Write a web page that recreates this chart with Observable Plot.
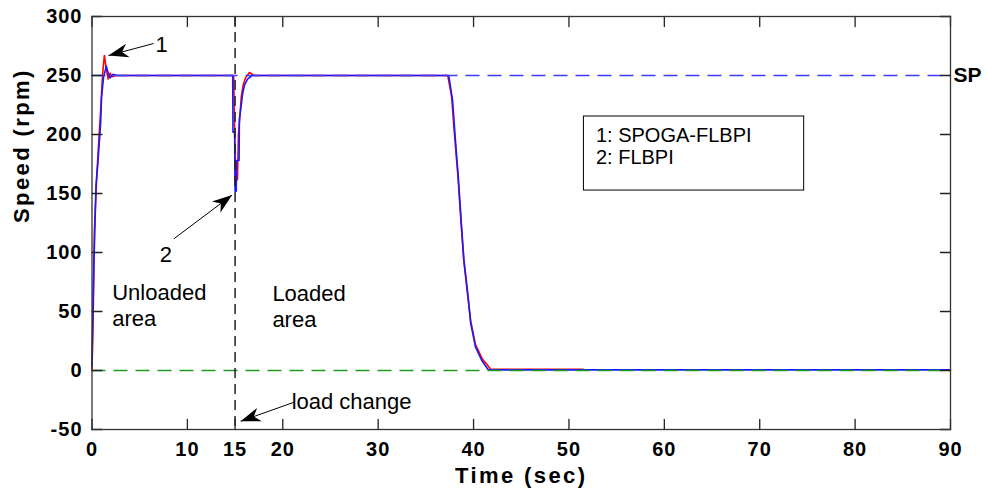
<!DOCTYPE html>
<html>
<head>
<meta charset="utf-8">
<script src="https://cdn.jsdelivr.net/npm/d3@7"></script>
<script src="https://cdn.jsdelivr.net/npm/@observablehq/plot@0.6"></script>
<style>
  html, body { margin: 0; padding: 0; background: white; }
</style>
</head>
<body>
<div id="chart"></div>
<script>
// ---- data ----
const xTicks = [0, 10, 15, 20, 30, 40, 50, 60, 70, 80, 90];
const yTicks = [-50, 0, 50, 100, 150, 200, 250, 300];

// Series 1: SPOGA-FLBPI (red)
const spogaT = [0, 0.12, 0.25, 0.5, 0.75, 0.9, 1.0, 1.15, 1.3, 1.5, 1.7, 1.9, 2.1, 2.5,
  14.85, 14.95, 15.05, 15.25, 15.35, 15.5, 15.65, 15.85, 16.1, 16.5, 17.0,
  37.3, 37.7, 38.0, 38.35, 38.65, 38.95, 39.35, 39.7, 40.2, 40.9, 41.4, 41.8, 51.5];
const spogaV = [0, 45, 118, 165, 200, 219, 235, 255, 267, 255, 247, 252, 249, 250,
  250, 205, 160, 162, 200, 215, 232, 242, 248, 252.5, 250,
  250, 232, 200, 166, 130, 95, 66, 42, 22, 10, 5, 1, 1];

// Series 2: FLBPI (blue)
const flbpiT = [0, 0.08, 0.2, 0.42, 0.6, 0.9, 1.0, 1.2, 1.5, 1.7, 1.9, 2.2, 2.6,
  14.75, 14.78, 14.95, 15.0, 15.12, 15.15, 15.42, 15.45, 15.6, 15.8, 16.0, 16.3, 16.8,
  37.4, 37.8, 38.1, 38.4, 38.7, 39.0, 39.4, 39.7, 40.2, 40.9, 41.5, 41.7, 90];
const flbpiV = [4, 45, 90, 157, 174, 209, 231, 248, 258, 252, 248, 251, 250,
  250, 202, 202, 152, 152, 178, 178, 213, 222, 235, 242, 247, 250,
  250, 229, 195, 164, 127, 93, 65, 40, 20, 8, 1, 0.5, 0.5];

const setPoint = 250;
const loadChangeTime = 15;

const legendLines = ["1: SPOGA-FLBPI", "2: FLBPI"];

// ---- tables built from the arrays ----
const spoga = spogaT.map((t, i) => ({t, v: spogaV[i]}));
const flbpi = flbpiT.map((t, i) => ({t, v: flbpiV[i]}));

// annotation anchors in data units
const notes = [
  {t: 6.66, v: 269.7, text: "1"},
  {t: 7.11, v: 91.8, text: "2"},
  {t: 20.93, v: -32.5, text: "load change"}
];
const areaNotes = [
  {t: 2.12, v: 75.7, text: "Unloaded\narea"},
  {t: 18.91, v: 74.8, text: "Loaded\narea"}
];
const arrows = [
  {t1: 6.45, v1: 277.1, t2: 1.73, v2: 266.9},
  {t1: 8.58, v1: 111.6, t2: 14.69, v2: 148.7},
  {t1: 21.18, v1: -26.9, t2: 15.58, v2: -43.0}
];
const legendBox = [{t1: 51.57, t2: 74.66, v1: 152.5, v2: 215.25}];
const legendText = [
  {t: 52.83, v: 193.6, text: legendLines[0]},
  {t: 52.83, v: 175.4, text: legendLines[1]}
];

const font = "'Liberation Sans', Arial, Helvetica, sans-serif";

const W = 987, H = 497, ML = 91.5, MR = 37, MT = 16, MB = 68;

// straight tick shape for Plot.vector
const tickShape = {draw(context, l) { context.moveTo(0, 0); context.lineTo(0, -l); }};

function headMarker(color, context) {
  const m = d3.create("svg:marker")
    .attr("viewBox", "-21 -8 22 16")
    .attr("markerWidth", 22)
    .attr("markerHeight", 16)
    .attr("markerUnits", "userSpaceOnUse")
    .attr("refX", 0).attr("refY", 0)
    .attr("orient", "auto")
    .attr("fill", "black")
    .attr("stroke", "none");
  m.append("path").attr("d", "M0,0L-20,-7L-14,0L-20,7Z");
  return m.node();
}

const tickStyle = {length: 10, anchor: "start", shape: tickShape, stroke: "#222", strokeWidth: 1.3};

const chart = Plot.plot({
  width: W,
  height: H,
  marginLeft: ML,
  marginRight: MR,
  marginTop: MT,
  marginBottom: MB,
  x: {domain: [0, 90]},
  y: {domain: [-50, 300]},
  style: {fontFamily: font, background: "white", overflow: "visible", color: "black"},
  marks: [
    // data lines
    Plot.line(spoga, {x: "t", y: "v", stroke: "#ff0000", strokeWidth: 1.6}),
    Plot.line(flbpi, {x: "t", y: "v", stroke: "#1a1aff", strokeWidth: 1.6}),
    // reference lines
    Plot.ruleY([setPoint], {stroke: "#3c3cff", strokeWidth: 1.3, strokeDasharray: "14,8"}),
    Plot.ruleY([0], {stroke: "#1f9a1f", strokeWidth: 1.3, strokeDasharray: "14,8"}),
    Plot.ruleX([loadChangeTime], {stroke: "#222", strokeWidth: 1.5, strokeDasharray: "10,6"}),
    // legend box
    Plot.rect(legendBox, {x1: "t1", x2: "t2", y1: "v1", y2: "v2", fill: "white", stroke: "black", strokeWidth: 1}),
    Plot.text(legendText, {x: "t", y: "v", text: "text", textAnchor: "start", lineAnchor: "bottom", fontSize: 20, fill: "black"}),
    // annotations
    Plot.link(arrows, {x1: "t1", y1: "v1", x2: "t2", y2: "v2", stroke: "black", strokeWidth: 1, markerEnd: headMarker}),
    Plot.text(notes, {x: "t", y: "v", text: "text", textAnchor: "start", lineAnchor: "bottom", fontSize: 22, fill: "black"}),
    Plot.text(areaNotes, {x: "t", y: "v", text: "text", textAnchor: "start", lineAnchor: "top", lineHeight: 1.19, fontSize: 22, fill: "black"}),
    Plot.text(["SP"], {x: 90, y: setPoint, dx: 3, dy: 6, textAnchor: "start", lineAnchor: "bottom", fontSize: 21, fontWeight: "bold", fill: "black"}),
    // axes: labels
    Plot.axisX(xTicks, {anchor: "bottom", tickSize: 0, tickPadding: 12.5, fontSize: 20, fontWeight: "bold", label: null, tickFormat: d => String(d)}),
    Plot.axisY(yTicks, {anchor: "left", tickSize: 0, tickPadding: 9.5, fontSize: 20, fontWeight: "bold", label: null, tickFormat: d => String(d)}),
    // inward ticks on all four sides
    Plot.vector(xTicks, {x: d => d, y: -50, rotate: 0, ...tickStyle}),
    Plot.vector(xTicks, {x: d => d, y: 300, rotate: 180, ...tickStyle}),
    Plot.vector(yTicks, {x: 0, y: d => d, rotate: 90, ...tickStyle}),
    Plot.vector(yTicks, {x: 90, y: d => d, rotate: 270, ...tickStyle}),
    // axis titles
    Plot.text(["Time (sec)"], {frameAnchor: "bottom", dy: 53, lineAnchor: "bottom", fontSize: 22, fontWeight: "bold", fill: "black"}),
    Plot.text(["Speed (rpm)"], {frameAnchor: "left", dx: -63, rotate: -90, lineAnchor: "bottom", fontSize: 22, fontWeight: "bold", fill: "black"}),
    Plot.frame({stroke: "#333", strokeWidth: 1.3})
  ]
});

document.getElementById("chart").appendChild(chart);

// bitmap-like wide spacing of the bold labels
d3.select(chart).selectAll("text").each(function() {
  const s = this.textContent;
  if (s === "Time (sec)" || s === "Speed (rpm)") d3.select(this).style("letter-spacing", "2.4px");
});
d3.select(chart).selectAll('g[aria-label="x-axis tick label"] text, g[aria-label="y-axis tick label"] text')
  .style("letter-spacing", "1px");
</script>
</body>
</html>
